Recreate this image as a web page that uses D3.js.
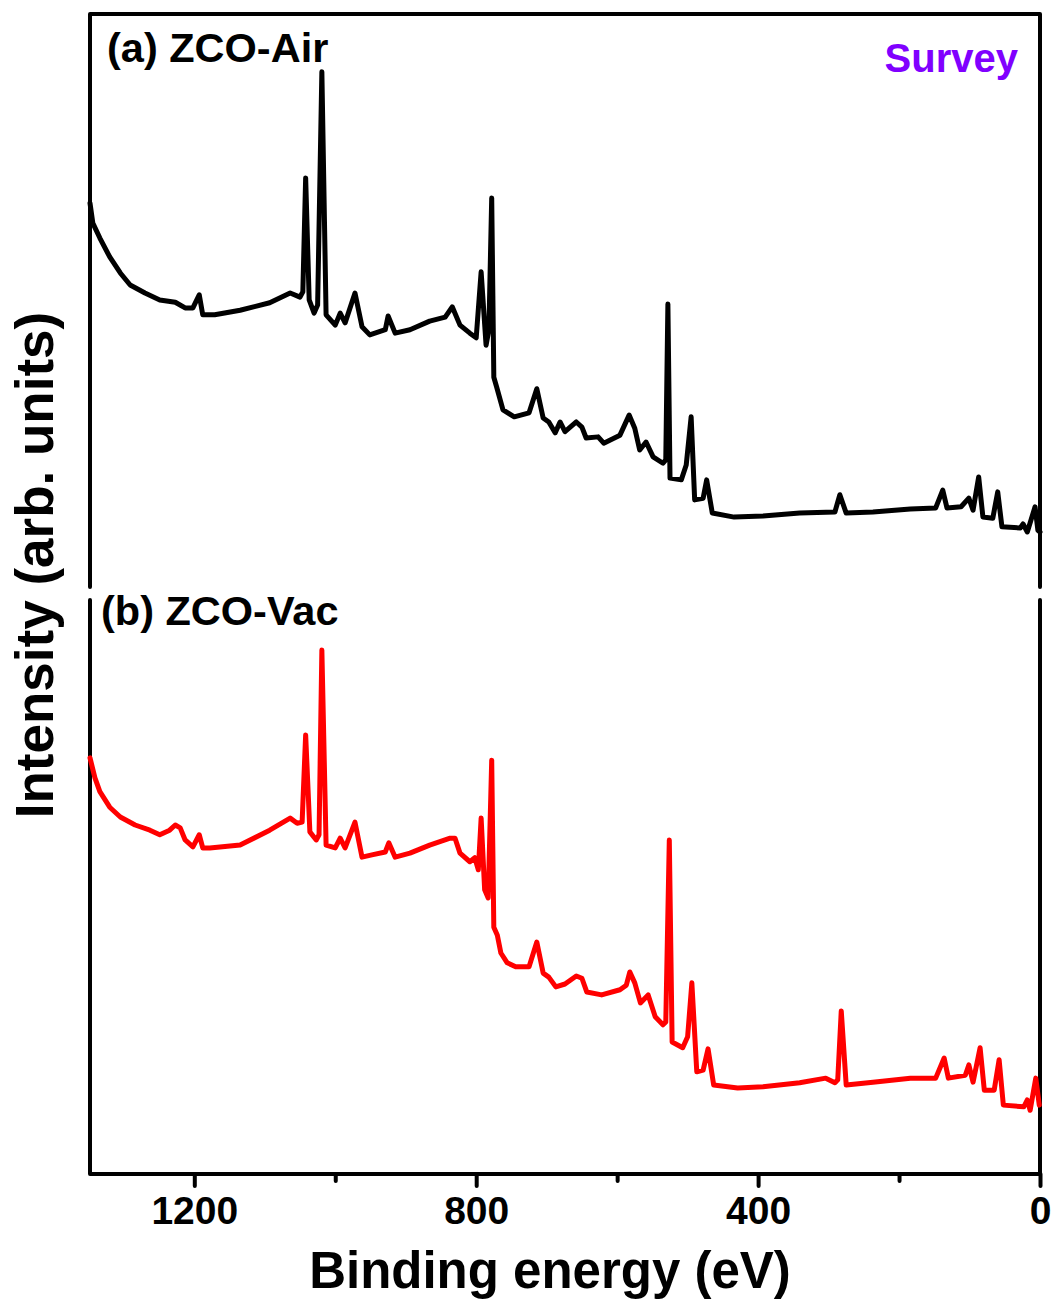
<!DOCTYPE html>
<html>
<head>
	<meta charset="utf-8">
	<title>XPS survey</title>
	<script src="https://d3js.org/d3.v7.min.js"></script>
	<style>
		body { margin: 0; background: #fff; }
		text { font-family: "Liberation Sans", Arial, sans-serif; font-weight: bold; }
	</style>
</head>
<body>
	<script>

			// binding energy (eV) and intensity (a.u.)
			var airEnergy = [1348, 1344, 1334, 1320, 1305, 1291, 1270, 1249, 1227, 1213, 1202, 1193, 1188, 1171, 1135, 1093, 1064, 1050, 1046, 1042, 1037, 1030, 1025, 1019, 1013, 1000, 993, 986, 972, 962, 951, 929, 925, 915, 894, 866, 844, 834, 823, 809, 800, 793, 786, 782, 778, 775, 771, 762, 746, 725, 714, 705, 697, 688, 681, 674, 658, 650, 644, 627, 619, 596, 583, 575, 568, 559, 549, 535, 531, 528, 525, 509, 502, 495, 490, 478, 473, 465, 434, 393, 341, 291, 284, 275, 237, 184, 148, 138, 132, 112, 101, 95, 87, 81, 67, 60, 54, 28, 24, 18, 7, 3, 0];
			var airIntensity = [67.0, 63.5, 60.9, 57.6, 54.8, 52.7, 51.3, 50.1, 49.7, 48.7, 48.7, 51.0, 47.5, 47.5, 48.3, 49.6, 51.3, 50.6, 51.5, 71.4, 50.1, 47.8, 49.2, 89.9, 47.5, 45.7, 47.8, 46.1, 51.3, 45.4, 44.0, 44.9, 47.3, 44.3, 44.9, 46.4, 47.1, 48.9, 45.7, 44.3, 43.5, 55.0, 42.2, 44.9, 67.9, 36.6, 34.9, 30.9, 29.7, 30.4, 34.6, 29.5, 28.8, 26.9, 28.8, 27.1, 28.8, 27.9, 26.0, 26.2, 25.1, 26.5, 30.0, 27.7, 23.9, 25.3, 22.7, 21.6, 22.2, 49.4, 19.0, 18.7, 21.3, 29.7, 15.2, 15.5, 18.7, 12.9, 12.2, 12.4, 12.9, 13.1, 16.1, 12.9, 13.1, 13.6, 13.8, 16.9, 13.8, 14.0, 15.5, 13.4, 19.2, 12.2, 12.0, 16.6, 10.5, 10.3, 11.0, 9.6, 14.0, 9.9, 9.6];

			var vacEnergy = [1348, 1341, 1334, 1320, 1305, 1284, 1263, 1249, 1235, 1227, 1220, 1213, 1202, 1193, 1188, 1178, 1135, 1093, 1064, 1054, 1047, 1042, 1036, 1027, 1023, 1019, 1013, 1000, 993, 986, 972, 962, 948, 929, 924, 915, 894, 866, 837, 830, 823, 809, 802, 797, 793, 788, 783, 778, 775, 770, 765, 756, 744, 725, 714, 705, 697, 687, 674, 658, 650, 643, 622, 596, 587, 582, 575, 567, 556, 546, 535, 531, 526, 522, 507, 500, 494, 487, 478, 471, 463, 429, 393, 341, 304, 291, 287, 282, 275, 237, 184, 148, 136, 130, 106, 101, 95, 85, 79, 65, 58, 52, 23, 18, 14, 6, 1];
			var vacIntensity = [72.5, 69.0, 66.6, 63.9, 62.2, 60.8, 59.9, 59.1, 59.9, 60.8, 60.3, 58.2, 57.0, 59.1, 56.8, 56.8, 57.3, 59.9, 62.0, 61.1, 61.3, 76.5, 59.6, 58.2, 59.1, 91.3, 57.3, 56.8, 58.5, 56.8, 61.3, 55.2, 55.6, 56.1, 57.7, 55.2, 55.9, 57.3, 58.5, 58.5, 55.9, 54.4, 55.1, 53.0, 62.0, 49.5, 48.1, 72.1, 43.0, 41.6, 38.5, 36.8, 36.1, 36.1, 40.4, 35.0, 34.3, 32.6, 33.1, 34.5, 34.1, 31.7, 31.2, 32.1, 32.9, 35.2, 33.3, 29.8, 31.2, 27.4, 26.0, 26.5, 58.2, 23.0, 22.0, 23.9, 33.3, 17.8, 18.1, 21.8, 15.5, 15.0, 15.2, 15.9, 16.7, 15.9, 16.4, 28.4, 15.5, 16.0, 16.7, 16.7, 20.2, 16.7, 17.2, 19.0, 16.0, 22.0, 14.6, 14.6, 19.9, 12.0, 11.7, 12.9, 11.1, 16.7, 12.0];

			var majorTicks = [1200, 800, 400, 0];
			var minorTicks = [1000, 600, 200];
			var panelLabels = ["(a) ZCO-Air", "(b) ZCO-Vac"];

			var left = 90, right = 1040;

			var svg = d3.select("body").append("svg")
							.attr("width", 1056)
							.attr("height", 1304);

			var x = d3.scaleLinear()
						.domain([1348, 0])
						.range([left, right]);

			var yTop = d3.scaleLinear()
						.domain([0, 100])
						.range([587, 14]);

			var yBottom = d3.scaleLinear()
						.domain([0, 100])
						.range([1174, 600]);

			// frame: top panel open at bottom, bottom panel open at top
			var frame = svg.append("g")
							.attr("fill", "none")
							.attr("stroke", "#000")
							.attr("stroke-width", 4)
							.attr("stroke-linecap", "round")
							.attr("stroke-linejoin", "round");

			frame.append("path")
				.attr("d", "M" + left + ",587V14H" + right + "V587");
			frame.append("path")
				.attr("d", "M" + left + ",600V1174H" + right + "V600");

			function drawSpectrum(energy, intensity, y, colour) {
				var pts = energy.map(function (e, i) { return [e, intensity[i]]; });
				var line = d3.line()
							.x(function (d) { return x(d[0]); })
							.y(function (d) { return y(d[1]); });
				svg.append("path")
					.datum(pts)
					.attr("d", line)
					.attr("fill", "none")
					.attr("stroke", colour)
					.attr("stroke-width", 5)
					.attr("stroke-linejoin", "round")
					.attr("stroke-linecap", "round");
			}

			drawSpectrum(airEnergy, airIntensity, yTop, "#000");
			drawSpectrum(vacEnergy, vacIntensity, yBottom, "#ff0000");

			// x axis ticks
			var major = svg.append("g")
							.attr("transform", "translate(0,1174)")
							.call(d3.axisBottom(x).tickValues(majorTicks).tickSize(12).tickPadding(10).tickFormat(d3.format("d")));
			major.select(".domain").remove();
			major.selectAll("line").attr("stroke-width", 4).attr("stroke-linecap", "round");
			major.selectAll("text")
				.attr("font-size", "39px")
				.attr("font-family", "Liberation Sans, Arial, sans-serif")
				.attr("font-weight", "bold")
				.attr("fill", "#000");

			var minor = svg.append("g")
							.attr("transform", "translate(0,1174)")
							.call(d3.axisBottom(x).tickValues(minorTicks).tickSize(7).tickFormat(""));
			minor.select(".domain").remove();
			minor.selectAll("line").attr("stroke-width", 4).attr("stroke-linecap", "round");

			// titles
			svg.append("text")
				.attr("x", 550)
				.attr("y", 1288)
				.attr("text-anchor", "middle")
				.attr("font-size", "51px")
				.text("Binding energy (eV)");

			svg.append("text")
				.attr("transform", "translate(53,565) rotate(-90)")
				.attr("text-anchor", "middle")
				.attr("font-size", "53px")
				.text("Intensity (arb. units)");

			svg.append("text")
				.attr("x", 107)
				.attr("y", 62)
				.attr("font-size", "41.5px")
				.text(panelLabels[0]);

			svg.append("text")
				.attr("x", 101)
				.attr("y", 625)
				.attr("font-size", "41.5px")
				.text(panelLabels[1]);

			svg.append("text")
				.attr("x", 1018)
				.attr("y", 72)
				.attr("text-anchor", "end")
				.attr("font-size", "40px")
				.attr("fill", "#8000ff")
				.text("Survey");

	</script>
</body>
</html>
